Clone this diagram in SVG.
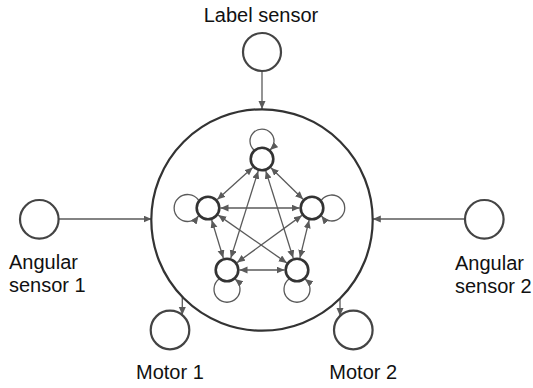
<svg xmlns="http://www.w3.org/2000/svg" width="533" height="388" viewBox="0 0 533 388">
<style>
  .lbl { font-family: "Liberation Sans", Arial, Helvetica, sans-serif; font-size: 20px; fill: #111; }
  .io { fill: #fff; stroke: #444; stroke-width: 2.2; }
  .big { fill: none; stroke: #333; stroke-width: 2.2; }
  .unit { fill: #fff; stroke: #333; stroke-width: 2.6; }
  .edge { fill: none; stroke: #5a5a5a; stroke-width: 1.3; marker-end: url(#ah); }
  .bi { marker-start: url(#ah); }
  .loop { fill: none; stroke: #5a5a5a; stroke-width: 1.3; marker-end: url(#ah); }
</style>
<defs>
  <marker id="ah" markerUnits="userSpaceOnUse" markerWidth="9" markerHeight="8" refX="8" refY="3.5" orient="auto-start-reverse">
    <path d="M0,0 L8,3.5 L0,7 z" fill="#5a5a5a"/>
  </marker>
</defs>
<rect width="533" height="388" fill="#fff"/>

<g id="connectors">
  <line class="edge" x1="262" y1="71.5" x2="262" y2="109"/>
  <line class="edge" x1="58.8" y1="219" x2="151.5" y2="219"/>
  <line class="edge" x1="464.5" y1="219" x2="372.8" y2="219"/>
  <line class="edge" x1="182.3" y1="296.8" x2="182.3" y2="315"/>
  <line class="edge" x1="340" y1="298.5" x2="340" y2="316"/>

  <line class="edge bi" x1="252.7" y1="167.4" x2="217.3" y2="199.6"/>
  <line class="edge bi" x1="270.9" y1="167.75" x2="303.1" y2="199.25"/>
  <line class="edge bi" x1="220.5" y1="208" x2="299.5" y2="208"/>
  <line class="edge bi" x1="211.7" y1="220" x2="223.3" y2="258"/>
  <line class="edge bi" x1="309.1" y1="220.2" x2="299.9" y2="257.9"/>
  <line class="edge bi" x1="239.5" y1="270" x2="284.5" y2="270"/>
  <line class="edge bi" x1="258.2" y1="170.9" x2="230.8" y2="258.1"/>
  <line class="edge bi" x1="265.8" y1="170.9" x2="293.2" y2="258.1"/>
  <line class="edge bi" x1="218.25" y1="215.1" x2="286.75" y2="262.9"/>
  <line class="edge bi" x1="301.9" y1="215.4" x2="237.1" y2="262.6"/>

  <path class="loop" d="M254,150 A12 12 0 1 1 270,150"/>
  <path class="loop" d="M198.5,200 A13.5 13.5 0 1 0 198.5,216"/>
  <path class="loop" d="M321.5,200 A13 13 0 1 1 321.5,216"/>
  <path class="loop" d="M219,279 A13 13 0 1 0 235,279"/>
  <path class="loop" d="M289,279 A13 13 0 1 0 305,279"/>
</g>

<g id="network">
  <circle class="big" cx="262" cy="220" r="110.7"/>
</g>
<g id="n-top"><circle class="unit" cx="262" cy="159" r="11.3"/></g>
<g id="n-left"><circle class="unit" cx="208" cy="208" r="11.3"/></g>
<g id="n-right"><circle class="unit" cx="312" cy="208" r="11.3"/></g>
<g id="n-bl"><circle class="unit" cx="227" cy="270" r="11.3"/></g>
<g id="n-br"><circle class="unit" cx="297" cy="270" r="11.3"/></g>

<g id="label-sensor">
  <circle class="io" cx="262" cy="52" r="19"/>
  <text class="lbl" x="261" y="22" text-anchor="middle">Label sensor</text>
</g>
<g id="angular-sensor-1">
  <circle class="io" cx="39.3" cy="219.3" r="19.3"/>
  <text class="lbl" x="9" y="269">Angular</text>
  <text class="lbl" x="9" y="292">sensor 1</text>
</g>
<g id="angular-sensor-2">
  <circle class="io" cx="484.3" cy="219.3" r="19.3"/>
  <text class="lbl" x="455" y="270">Angular</text>
  <text class="lbl" x="455" y="292.5">sensor 2</text>
</g>
<g id="motor-1">
  <circle class="io" cx="170" cy="330" r="19.3"/>
  <text class="lbl" x="136" y="379">Motor 1</text>
</g>
<g id="motor-2">
  <circle class="io" cx="353.3" cy="330" r="19.3"/>
  <text class="lbl" x="329.3" y="379">Motor 2</text>
</g>
</svg>
